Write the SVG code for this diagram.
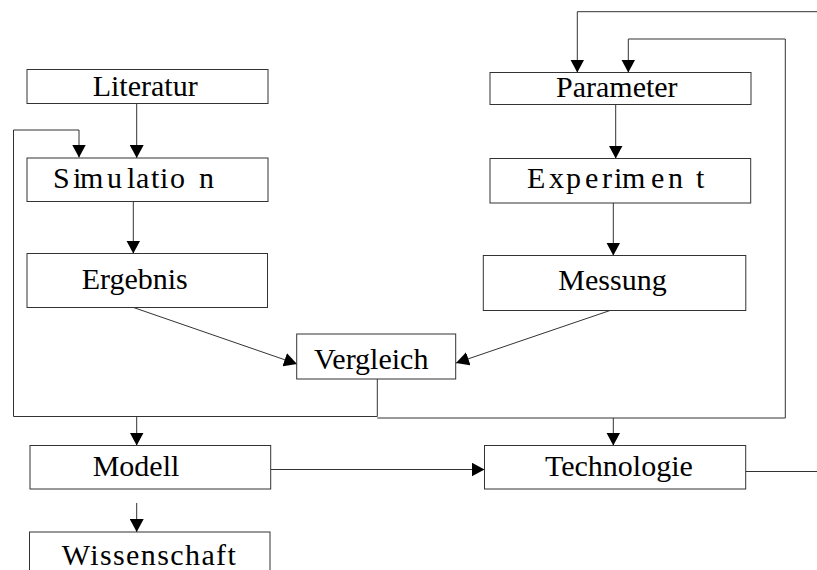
<svg xmlns="http://www.w3.org/2000/svg" width="817" height="570" viewBox="0 0 817 570">
  <style>
    .box { fill: #ffffff; stroke: #333333; stroke-width: 1; }
    .lbl { font-family: "Liberation Serif", "Times New Roman", serif; font-size: 30px; fill: #000000; }
    .wire { fill: none; stroke: #333333; stroke-width: 1; }
    .arr { marker-end: url(#head); }
  </style>
  <defs>
    <marker id="head" viewBox="0 0 13 14" refX="13" refY="7" markerWidth="13" markerHeight="14" markerUnits="userSpaceOnUse" orient="auto">
      <path d="M0,0 L13,7 L0,14 Z" fill="#000000"/>
    </marker>
  </defs>
  <rect width="817" height="570" fill="#ffffff"/>

  <!-- connectors -->
  <g id="connectors">
    <line class="wire arr" x1="136.7" y1="104" x2="136.7" y2="158"/>
    <line class="wire arr" x1="133.3" y1="202" x2="133.3" y2="253.5"/>
    <line class="wire arr" x1="133.5" y1="307.5" x2="297" y2="364"/>
    <line class="wire arr" x1="610" y1="310.5" x2="456" y2="363"/>
    <line class="wire arr" x1="615.7" y1="104.5" x2="615.7" y2="158.5"/>
    <line class="wire arr" x1="613.3" y1="203" x2="613.3" y2="255.5"/>
    <!-- feedback from Vergleich back to Simulation -->
    <path class="wire arr" d="M377.3,379 V416.5 H13.5 V130 H79 V157.5"/>
    <!-- feedback from Vergleich back to Parameter -->
    <path class="wire arr" d="M377.3,418 H785.3 V39 H628.3 V72.5"/>
    <!-- incoming line to Parameter -->
    <path class="wire arr" d="M817,11.7 H577.3 V72.5"/>
    <line class="wire arr" x1="136.7" y1="416.5" x2="136.7" y2="445.5"/>
    <line class="wire arr" x1="613.3" y1="418" x2="613.3" y2="445.5"/>
    <line class="wire arr" x1="270.7" y1="469.5" x2="484.5" y2="469.5"/>
    <line class="wire" x1="745.7" y1="471.5" x2="817" y2="471.5" stroke="#666666"/>
    <line class="wire arr" x1="136.7" y1="503" x2="136.7" y2="532"/>
  </g>

  <!-- nodes -->
  <g id="literatur">
    <rect class="box" x="27" y="69.5" width="241" height="34"/>
    <text class="lbl" x="92.7" y="95.7">Literatur</text>
  </g>
  <g id="simulation">
    <rect class="box" x="27" y="158" width="241" height="43.5"/>
    <text class="lbl" x="53 73 80 107 127 136 151 160 170 199" y="188.3">Simulation</text>
  </g>
  <g id="ergebnis">
    <rect class="box" x="27" y="253.5" width="240.5" height="54"/>
    <text class="lbl" x="81.7" y="289.3">Ergebnis</text>
  </g>
  <g id="parameter">
    <rect class="box" x="490" y="72.5" width="261" height="32"/>
    <text class="lbl" x="556" y="96.7">Parameter</text>
  </g>
  <g id="experiment">
    <rect class="box" x="490" y="158.5" width="260.7" height="44.5"/>
    <text class="lbl" x="527 549 566 585 602 614 622 651 668 696" y="188">Experiment</text>
  </g>
  <g id="messung">
    <rect class="box" x="483.3" y="255.5" width="262.5" height="55"/>
    <text class="lbl" x="558.3" y="290">Messung</text>
  </g>
  <g id="vergleich">
    <rect class="box" x="296.7" y="334" width="159" height="45"/>
    <text class="lbl" x="314" y="369.3">Vergleich</text>
  </g>
  <g id="modell">
    <rect class="box" x="30" y="445.5" width="240.7" height="43.5"/>
    <text class="lbl" x="92.7" y="475.7">Modell</text>
  </g>
  <g id="technologie">
    <rect class="box" x="484.5" y="445.5" width="261.2" height="43.5"/>
    <text class="lbl" x="545" y="476">Technologie</text>
  </g>
  <g id="wissenschaft">
    <rect class="box" x="29.5" y="532" width="240.5" height="42"/>
    <text class="lbl" x="61.7" y="565" letter-spacing="1.4">Wissenschaft</text>
  </g>
</svg>
